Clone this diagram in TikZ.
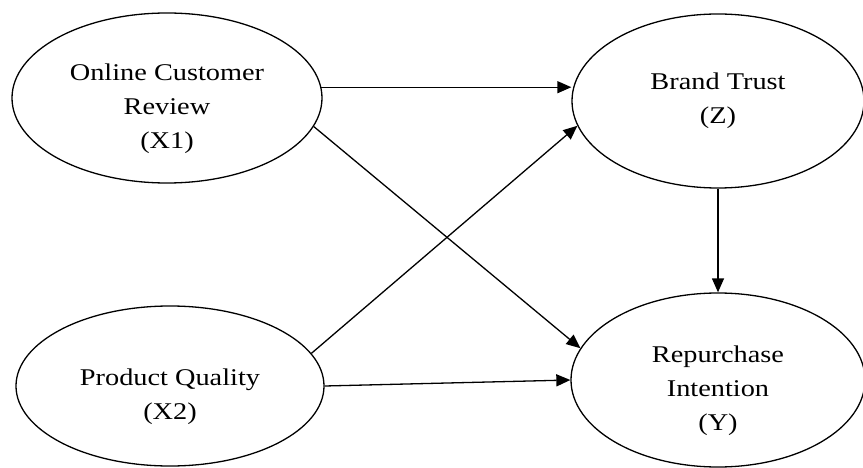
\documentclass[tikz,border=0pt]{standalone}
\usepackage{fontspec}
\setmainfont{Liberation Serif}[FakeStretch=1.18]
\usepackage{tikz}
\usetikzlibrary{arrows.meta,shapes.geometric}
\newcommand{\lowstrut}{\rule{0pt}{38pt}}

\begin{document}
\begin{tikzpicture}[x=1pt,y=-1pt,->,>={Triangle[length=14pt,width=12pt]},
  line width=1.3pt,
  latent node/.style={ellipse,draw,inner sep=0pt,align=center,
    font=\fontsize{24}{34}\selectfont}]
  \useasboundingbox (0,0) rectangle (863,468);
  \node[latent node,minimum width=310pt,minimum height=170pt] (X1) at (167,98) {\lowstrut Online Customer\\Review\\(X1)};
  \node[latent node,minimum width=292pt,minimum height=174pt] (Z) at (718,101) {Brand Trust\\(Z)};
  \node[latent node,minimum width=308pt,minimum height=160pt] (X2) at (170,386) {\lowstrut Product Quality\\(X2)};
  \node[latent node,minimum width=294pt,minimum height=174pt] (Y) at (718,380) {\lowstrut Repurchase\\Intention\\(Y)};

  \path
    (X1.4) edge (X1.4 -| Z.west)
    (X1.-11) edge (Y.167)
    (X2.13) edge (Z.-170)
    (X2.east) edge (Y.west)
    (Z.south) edge (Y.north);
\end{tikzpicture}
\end{document}
